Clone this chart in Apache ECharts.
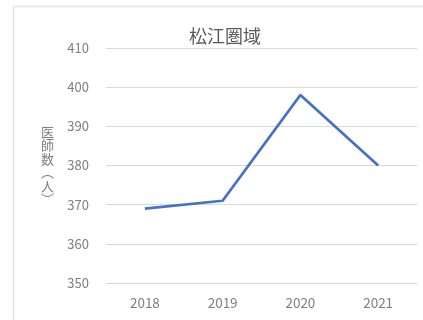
<!DOCTYPE html>
<html>
<head>
<meta charset="utf-8">
<script src="https://cdn.jsdelivr.net/npm/echarts@6/dist/echarts.min.js"></script>
<style>
  html, body { margin: 0; padding: 0; background: #ffffff; }
  #chart { width: 423px; height: 320px; }
</style>
</head>
<body>
<div id="chart"></div>
<script>
// 松江圏域の医師数の推移
const years = ['2018', '2019', '2020', '2021'];
const doctors = [369, 371, 398, 380];
const yMin = 350;
const yMax = 410;
const yStep = 10;

const chart = echarts.init(document.getElementById('chart'), null, { renderer: 'canvas' });
const gray = '#7f7f7f';
const font = '"Noto Sans CJK JP", "Noto Sans", sans-serif';

chart.setOption({
  animation: false,
  backgroundColor: '#ffffff',
  title: {
    text: '松江圏域',
    left: 184,
    top: 22,
    textStyle: { fontFamily: font, fontSize: 18, fontWeight: 'normal', color: '#595959' }
  },
  graphic: [{
    type: 'rect',
    shape: { x: 13.5, y: 6.5, width: 430, height: 330 },
    style: { fill: 'none', stroke: '#e3e3e3', lineWidth: 1.5 },
    silent: true
  }],
  grid: { left: 106, right: 6, top: 48, bottom: 37 },
  xAxis: {
    type: 'category',
    data: years,
    boundaryGap: true,
    axisLine: { show: false },
    axisTick: { show: false },
    axisLabel: { color: gray, fontFamily: font, fontSize: 13.5, margin: 13 }
  },
  yAxis: {
    type: 'value',
    min: yMin,
    max: yMax,
    interval: yStep,
    name: '医\n師\n数\n︵\n人\n︶',
    nameLocation: 'middle',
    nameRotate: 0,
    nameGap: 52,
    nameTextStyle: { color: gray, fontFamily: font, fontSize: 13, lineHeight: 13.5 },
    axisLine: { show: false },
    axisTick: { show: false },
    axisLabel: { color: gray, fontFamily: font, fontSize: 13, margin: 17 },
    splitLine: { lineStyle: { color: '#d9d9d9', width: 1 } }
  },
  series: [{
    type: 'line',
    data: doctors,
    symbol: 'none',
    lineStyle: { color: '#4472c4', width: 2.75 }
  }]
});
</script>
</body>
</html>
